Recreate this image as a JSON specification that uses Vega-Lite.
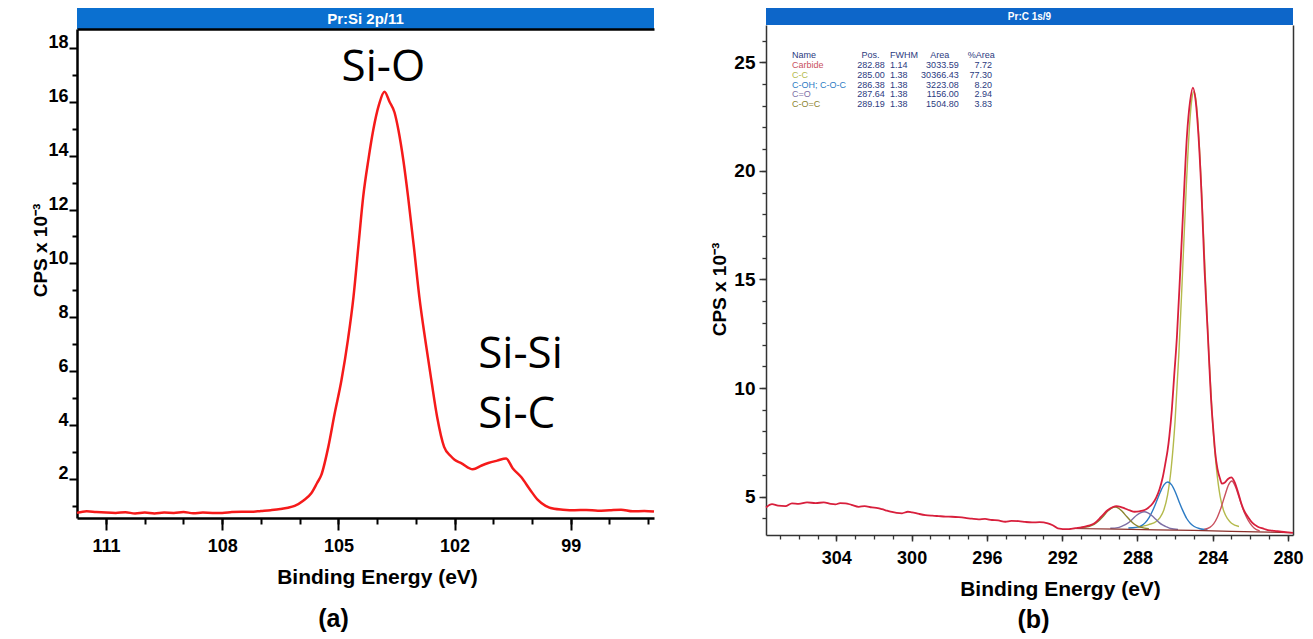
{
  "$schema": "https://vega.github.io/schema/vega-lite/v6.json",
  "background": "white",
  "padding": {"left": 31, "top": 8, "right": 5, "bottom": 5},
  "spacing": 51,
  "datasets": {
    "si": [
      {"be":111.75,"cps":0.74},{"be":111.5,"cps":0.80},{"be":111.25,"cps":0.77},{"be":111.0,"cps":0.75},{"be":110.75,"cps":0.74},{"be":110.5,"cps":0.76},{"be":110.25,"cps":0.72},{"be":110.0,"cps":0.75},{"be":109.75,"cps":0.72},{"be":109.5,"cps":0.75},{"be":109.25,"cps":0.74},{"be":109.0,"cps":0.77},{"be":108.75,"cps":0.73},{"be":108.5,"cps":0.75},{"be":108.25,"cps":0.74},{"be":108.0,"cps":0.74},{"be":107.75,"cps":0.77},{"be":107.5,"cps":0.78},{"be":107.25,"cps":0.78},{"be":107.0,"cps":0.81},{"be":106.75,"cps":0.84},{"be":106.5,"cps":0.88},{"be":106.3,"cps":0.93},{"be":106.13,"cps":1.0},{"be":105.9,"cps":1.2},{"be":105.7,"cps":1.47},{"be":105.55,"cps":1.85},{"be":105.44,"cps":2.15},{"be":105.26,"cps":3.19},{"be":105.1,"cps":4.4},{"be":104.92,"cps":5.67},{"be":104.75,"cps":7.2},{"be":104.61,"cps":8.76},{"be":104.48,"cps":10.7},{"be":104.36,"cps":12.47},{"be":104.22,"cps":13.9},{"be":104.1,"cps":14.95},{"be":103.95,"cps":15.9},{"be":103.81,"cps":16.37},{"be":103.68,"cps":16.0},{"be":103.55,"cps":15.6},{"be":103.45,"cps":14.95},{"be":103.32,"cps":13.8},{"be":103.2,"cps":12.47},{"be":103.05,"cps":10.6},{"be":102.91,"cps":8.76},{"be":102.75,"cps":7.1},{"be":102.6,"cps":5.67},{"be":102.45,"cps":4.3},{"be":102.27,"cps":3.19},{"be":102.1,"cps":2.85},{"be":102.0,"cps":2.71},{"be":101.83,"cps":2.59},{"be":101.53,"cps":2.36},{"be":101.3,"cps":2.5},{"be":101.13,"cps":2.59},{"be":100.9,"cps":2.68},{"be":100.67,"cps":2.76},{"be":100.5,"cps":2.4},{"be":100.28,"cps":2.07},{"be":100.05,"cps":1.6},{"be":99.85,"cps":1.22},{"be":99.65,"cps":1.0},{"be":99.43,"cps":0.89},{"be":99.2,"cps":0.86},{"be":98.9,"cps":0.84},{"be":98.6,"cps":0.85},{"be":98.3,"cps":0.82},{"be":98.0,"cps":0.84},{"be":97.7,"cps":0.86},{"be":97.4,"cps":0.8},{"be":97.1,"cps":0.81},{"be":96.85,"cps":0.79}
    ],
    "labels": [
      {"label":"Si-O","be":103.84,"cps":17.26},
      {"label":"Si-Si","be":101.39,"cps":6.6},
      {"label":"Si-C","be":101.39,"cps":4.38}
    ],
    "c1s": [
      {"be":307.74,"cps":4.50},{"be":307.42,"cps":4.65},{"be":307.1,"cps":4.58},{"be":306.71,"cps":4.56},{"be":306.36,"cps":4.69},{"be":306.0,"cps":4.66},{"be":305.56,"cps":4.73},{"be":305.1,"cps":4.70},{"be":304.67,"cps":4.73},{"be":304.3,"cps":4.66},{"be":304.05,"cps":4.64},{"be":303.8,"cps":4.70},{"be":303.52,"cps":4.69},{"be":303.2,"cps":4.62},{"be":302.81,"cps":4.53},{"be":302.5,"cps":4.56},{"be":302.11,"cps":4.50},{"be":301.8,"cps":4.47},{"be":301.58,"cps":4.42},{"be":301.3,"cps":4.35},{"be":301.05,"cps":4.29},{"be":300.8,"cps":4.25},{"be":300.51,"cps":4.23},{"be":300.2,"cps":4.30},{"be":299.98,"cps":4.27},{"be":299.6,"cps":4.20},{"be":299.27,"cps":4.15},{"be":298.9,"cps":4.12},{"be":298.56,"cps":4.10},{"be":298.2,"cps":4.08},{"be":297.86,"cps":4.07},{"be":297.5,"cps":4.05},{"be":297.15,"cps":4.02},{"be":296.8,"cps":3.98},{"be":296.44,"cps":3.95},{"be":296.1,"cps":3.97},{"be":295.73,"cps":3.92},{"be":295.4,"cps":3.90},{"be":295.02,"cps":3.84},{"be":294.7,"cps":3.88},{"be":294.31,"cps":3.87},{"be":293.95,"cps":3.83},{"be":293.6,"cps":3.81},{"be":293.2,"cps":3.82},{"be":292.76,"cps":3.77},{"be":292.5,"cps":3.68},{"be":292.23,"cps":3.54},{"be":291.7,"cps":3.50},{"be":291.3,"cps":3.55},{"be":290.98,"cps":3.58},{"be":290.6,"cps":3.66},{"be":290.28,"cps":3.77},{"be":289.92,"cps":4.07},{"be":289.57,"cps":4.38},{"be":289.3,"cps":4.52},{"be":289.12,"cps":4.56},{"be":288.9,"cps":4.53},{"be":288.68,"cps":4.46},{"be":288.4,"cps":4.36},{"be":288.15,"cps":4.30},{"be":287.9,"cps":4.32},{"be":287.62,"cps":4.38},{"be":287.4,"cps":4.50},{"be":287.18,"cps":4.69},{"be":287.0,"cps":4.95},{"be":286.82,"cps":5.35},{"be":286.65,"cps":5.9},{"be":286.5,"cps":6.6},{"be":286.4,"cps":7.1},{"be":286.3,"cps":7.8},{"be":286.17,"cps":9.0},{"be":286.05,"cps":10.5},{"be":285.9,"cps":12.36},{"be":285.72,"cps":15.43},{"be":285.55,"cps":18.5},{"be":285.37,"cps":21.57},{"be":285.2,"cps":23.2},{"be":285.05,"cps":23.84},{"be":284.9,"cps":23.2},{"be":284.75,"cps":21.57},{"be":284.57,"cps":18.5},{"be":284.43,"cps":15.43},{"be":284.25,"cps":12.36},{"be":284.07,"cps":9.29},{"be":283.95,"cps":7.9},{"be":283.86,"cps":6.99},{"be":283.75,"cps":6.3},{"be":283.6,"cps":5.8},{"be":283.51,"cps":5.6},{"be":283.35,"cps":5.65},{"be":283.2,"cps":5.8},{"be":283.01,"cps":5.88},{"be":282.84,"cps":5.68},{"be":282.65,"cps":5.2},{"be":282.48,"cps":4.69},{"be":282.3,"cps":4.3},{"be":282.13,"cps":4.07},{"be":281.9,"cps":3.8},{"be":281.6,"cps":3.61},{"be":281.3,"cps":3.52},{"be":281.07,"cps":3.46},{"be":280.7,"cps":3.42},{"be":280.35,"cps":3.38},{"be":280.0,"cps":3.35},{"be":279.73,"cps":3.33}
    ],
    "comp": [
      {"name":"C-C","be":282.6,"cps":3.62},{"name":"C-C","be":283.0,"cps":3.77},{"name":"C-C","be":283.2,"cps":3.97},{"name":"C-C","be":283.4,"cps":4.31},{"name":"C-C","be":283.6,"cps":5.0},{"name":"C-C","be":283.8,"cps":6.3},{"name":"C-C","be":284.0,"cps":8.4},{"name":"C-C","be":284.2,"cps":11.49},{"name":"C-C","be":284.4,"cps":15.32},{"name":"C-C","be":284.6,"cps":19.3},{"name":"C-C","be":284.8,"cps":22.44},{"name":"C-C","be":284.9,"cps":23.34},{"name":"C-C","be":285.0,"cps":23.65},{"name":"C-C","be":285.1,"cps":23.35},{"name":"C-C","be":285.2,"cps":22.44},{"name":"C-C","be":285.4,"cps":19.32},{"name":"C-C","be":285.6,"cps":15.34},{"name":"C-C","be":285.8,"cps":11.52},{"name":"C-C","be":286.0,"cps":8.44},{"name":"C-C","be":286.2,"cps":6.34},{"name":"C-C","be":286.4,"cps":5.05},{"name":"C-C","be":286.6,"cps":4.37},{"name":"C-C","be":286.8,"cps":4.03},{"name":"C-C","be":287.0,"cps":3.85},{"name":"C-C","be":287.4,"cps":3.71},{"name":"C-C","be":288.0,"cps":3.58},
      {"name":"C-OH; C-O-C","be":284.28,"cps":3.47},{"name":"C-OH; C-O-C","be":284.68,"cps":3.52},{"name":"C-OH; C-O-C","be":284.98,"cps":3.62},{"name":"C-OH; C-O-C","be":285.18,"cps":3.76},{"name":"C-OH; C-O-C","be":285.38,"cps":3.99},{"name":"C-OH; C-O-C","be":285.58,"cps":4.34},{"name":"C-OH; C-O-C","be":285.78,"cps":4.75},{"name":"C-OH; C-O-C","be":285.98,"cps":5.2},{"name":"C-OH; C-O-C","be":286.18,"cps":5.54},{"name":"C-OH; C-O-C","be":286.38,"cps":5.67},{"name":"C-OH; C-O-C","be":286.58,"cps":5.55},{"name":"C-OH; C-O-C","be":286.78,"cps":5.21},{"name":"C-OH; C-O-C","be":286.98,"cps":4.78},{"name":"C-OH; C-O-C","be":287.18,"cps":4.37},{"name":"C-OH; C-O-C","be":287.38,"cps":4.03},{"name":"C-OH; C-O-C","be":287.58,"cps":3.8},{"name":"C-OH; C-O-C","be":287.78,"cps":3.66},{"name":"C-OH; C-O-C","be":288.08,"cps":3.58},{"name":"C-OH; C-O-C","be":288.48,"cps":3.55},
      {"name":"C=O","be":285.84,"cps":3.49},{"name":"C=O","be":286.24,"cps":3.53},{"name":"C=O","be":286.44,"cps":3.6},{"name":"C=O","be":286.64,"cps":3.68},{"name":"C=O","be":286.84,"cps":3.8},{"name":"C=O","be":287.04,"cps":3.97},{"name":"C=O","be":287.24,"cps":4.13},{"name":"C=O","be":287.44,"cps":4.25},{"name":"C=O","be":287.64,"cps":4.3},{"name":"C=O","be":287.84,"cps":4.25},{"name":"C=O","be":288.04,"cps":4.14},{"name":"C=O","be":288.24,"cps":3.98},{"name":"C=O","be":288.44,"cps":3.82},{"name":"C=O","be":288.64,"cps":3.71},{"name":"C=O","be":288.84,"cps":3.63},{"name":"C=O","be":289.04,"cps":3.57},{"name":"C=O","be":289.44,"cps":3.54},
      {"name":"C-O=C","be":287.39,"cps":3.52},{"name":"C-O=C","be":287.79,"cps":3.58},{"name":"C-O=C","be":287.99,"cps":3.64},{"name":"C-O=C","be":288.19,"cps":3.75},{"name":"C-O=C","be":288.39,"cps":3.91},{"name":"C-O=C","be":288.59,"cps":4.1},{"name":"C-O=C","be":288.79,"cps":4.3},{"name":"C-O=C","be":288.99,"cps":4.46},{"name":"C-O=C","be":289.19,"cps":4.52},{"name":"C-O=C","be":289.39,"cps":4.46},{"name":"C-O=C","be":289.59,"cps":4.32},{"name":"C-O=C","be":289.79,"cps":4.12},{"name":"C-O=C","be":289.99,"cps":3.93},{"name":"C-O=C","be":290.19,"cps":3.79},{"name":"C-O=C","be":290.39,"cps":3.68},{"name":"C-O=C","be":290.59,"cps":3.62},{"name":"C-O=C","be":290.99,"cps":3.58},
      {"name":"Carbide","be":281.5,"cps":3.42},{"name":"Carbide","be":281.8,"cps":3.55},{"name":"Carbide","be":282.0,"cps":3.75},{"name":"Carbide","be":282.2,"cps":4.05},{"name":"Carbide","be":282.4,"cps":4.45},{"name":"Carbide","be":282.6,"cps":4.98},{"name":"Carbide","be":282.8,"cps":5.48},{"name":"Carbide","be":282.98,"cps":5.72},{"name":"Carbide","be":283.15,"cps":5.55},{"name":"Carbide","be":283.35,"cps":5.05},{"name":"Carbide","be":283.55,"cps":4.5},{"name":"Carbide","be":283.75,"cps":4.05},{"name":"Carbide","be":283.95,"cps":3.74},{"name":"Carbide","be":284.15,"cps":3.58},{"name":"Carbide","be":284.45,"cps":3.49}
    ],
    "bg": [
      {"be":291.6,"cps":3.53},{"be":289.0,"cps":3.5},{"be":287.0,"cps":3.47},{"be":285.0,"cps":3.44},{"be":283.0,"cps":3.4},{"be":281.0,"cps":3.36},{"be":279.8,"cps":3.34}
    ],
    "table": [
      {"row":0,"name":"Name","pos":"Pos.","fwhm":"FWHM","area":"Area","pct":"%Area"},
      {"row":1,"name":"Carbide","pos":"282.88","fwhm":"1.14","area":"3033.59","pct":"7.72"},
      {"row":2,"name":"C-C","pos":"285.00","fwhm":"1.38","area":"30366.43","pct":"77.30"},
      {"row":3,"name":"C-OH; C-O-C","pos":"286.38","fwhm":"1.38","area":"3223.08","pct":"8.20"},
      {"row":4,"name":"C=O","pos":"287.64","fwhm":"1.38","area":"1156.00","pct":"2.94"},
      {"row":5,"name":"C-O=C","pos":"289.19","fwhm":"1.38","area":"1504.80","pct":"3.83"}
    ]
  },
  "hconcat": [
    {
      "spacing": 0,
      "vconcat": [
        {
          "width": 577, "height": 21,
          "view": {"fill": "#0b70d0", "stroke": null},
          "data": {"values": [{"label": "Pr:Si 2p/11"}]},
          "mark": {"type": "text", "color": "white", "font": "Liberation Sans", "fontWeight": "bold", "fontSize": 15},
          "encoding": {"text": {"field": "label"}}
        },
        {
          "width": 577, "height": 489,
          "title": {"text": "(a)", "orient": "bottom", "font": "Liberation Sans", "fontWeight": "bold", "fontSize": 25, "color": "black", "offset": 20, "dx": -32},
          "resolve": {"axis": {"x": "independent", "y": "independent"}},
          "layer": [
            {
              "data": {"name": "si"},
              "mark": {"type": "line", "color": "#f51a1a", "strokeWidth": 2.5, "interpolate": "monotone"},
              "encoding": {
                "x": {"field": "be", "type": "quantitative",
                  "scale": {"domain": [96.85, 111.75], "reverse": true, "nice": false, "zero": false},
                  "axis": {"orient": "bottom", "values": [99, 102, 105, 108, 111], "tickSize": 12, "tickWidth": 2, "domainWidth": 2.5, "labelPadding": 7, "labelFontSize": 18,
                    "title": "Binding Energy (eV)", "titleFontSize": 21, "titleX": 300, "titleY": 59, "titleBaseline": "middle"}},
                "y": {"field": "cps", "type": "quantitative",
                  "scale": {"domain": [0.55, 18.7], "nice": false, "zero": false},
                  "axis": {"orient": "left", "values": [2, 4, 6, 8, 10, 12, 14, 16, 18], "tickSize": 8, "tickWidth": 2, "domainWidth": 2.5, "labelPadding": 1, "labelFontSize": 18, "labelBaseline": "alphabetic",
                    "title": "CPS x 10⁻³", "titleFontSize": 19, "titleX": -37, "titleY": 221, "titleBaseline": "middle"}}
              }
            },
            {
              "data": {"name": "si"},
              "mark": {"type": "line", "opacity": 0},
              "encoding": {
                "x": {"field": "be", "type": "quantitative",
                  "scale": {"domain": [96.85, 111.75], "reverse": true, "nice": false, "zero": false},
                  "axis": {"orient": "bottom", "values": [97, 98, 99, 100, 101, 102, 103, 104, 105, 106, 107, 108, 109, 110, 111], "tickSize": 6, "tickWidth": 2, "domain": false, "labels": false, "title": null}},
                "y": {"field": "cps", "type": "quantitative",
                  "scale": {"domain": [0.55, 18.7], "nice": false, "zero": false},
                  "axis": {"orient": "left", "values": [1, 3, 5, 7, 9, 11, 13, 15, 17], "tickSize": 5, "tickWidth": 2, "domain": false, "labels": false, "title": null}}
              }
            },
            {
              "data": {"name": "labels"},
              "transform": [{"filter": "datum.label == 'Si-O'"}],
              "mark": {"type": "text", "align": "center", "baseline": "middle", "font": "Open Sans", "fontSize": 44, "color": "black"},
              "encoding": {
                "x": {"field": "be", "type": "quantitative",
                  "scale": {"domain": [96.85, 111.75], "reverse": true, "nice": false, "zero": false},
                  "axis": {"orient": "top", "domain": true, "domainWidth": 2.5, "ticks": false, "labels": false, "title": null}},
                "y": {"field": "cps", "type": "quantitative", "scale": {"domain": [0.55, 18.7], "nice": false, "zero": false}, "axis": null},
                "text": {"field": "label"}
              }
            },
            {
              "data": {"name": "labels"},
              "transform": [{"filter": "datum.label != 'Si-O'"}],
              "mark": {"type": "text", "align": "left", "baseline": "middle", "font": "Open Sans", "fontSize": 44, "color": "black"},
              "encoding": {
                "x": {"field": "be", "type": "quantitative", "scale": {"domain": [96.85, 111.75], "reverse": true, "nice": false, "zero": false}, "axis": null},
                "y": {"field": "cps", "type": "quantitative", "scale": {"domain": [0.55, 18.7], "nice": false, "zero": false}, "axis": null},
                "text": {"field": "label"}
              }
            }
          ]
        }
      ]
    },
    {
      "spacing": 0,
      "vconcat": [
        {
          "width": 527, "height": 17,
          "view": {"fill": "#0d66c9", "stroke": null},
          "data": {"values": [{"label": "Pr:C 1s/9"}]},
          "mark": {"type": "text", "color": "white", "font": "Liberation Sans", "fontWeight": "bold", "fontSize": 10},
          "encoding": {"text": {"field": "label"}}
        },
        {
          "width": 527, "height": 510,
          "title": {"text": "(b)", "orient": "bottom", "font": "Liberation Sans", "fontWeight": "bold", "fontSize": 25, "color": "black", "offset": 9, "dx": 4},
          "resolve": {"axis": {"x": "independent", "y": "independent"}, "scale": {"y": "independent"}},
          "layer": [
            {
              "data": {"name": "comp"},
              "mark": {"type": "line", "strokeWidth": 1.4, "interpolate": "monotone"},
              "encoding": {
                "x": {"field": "be", "type": "quantitative", "scale": {"domain": [279.73, 307.74], "reverse": true, "nice": false, "zero": false}, "axis": null},
                "y": {"field": "cps", "type": "quantitative", "scale": {"domain": [3.23, 26.72], "nice": false, "zero": false},
                  "axis": {"orient": "right", "domain": true, "domainWidth": 1.5, "domainColor": "#333333", "ticks": false, "labels": false, "title": null}},
                "color": {"field": "name", "type": "nominal", "legend": null,
                  "scale": {"domain": ["Name", "Carbide", "C-C", "C-OH; C-O-C", "C=O", "C-O=C"], "range": ["#2b3a80", "#c9505e", "#b4ba4c", "#2c7bc4", "#7d6fa6", "#8c8430"]}}
              }
            },
            {
              "data": {"name": "bg"},
              "mark": {"type": "line", "strokeWidth": 1.2, "color": "#8b2f2a"},
              "encoding": {
                "x": {"field": "be", "type": "quantitative", "scale": {"domain": [279.73, 307.74], "reverse": true, "nice": false, "zero": false}, "axis": null},
                "y": {"field": "cps", "type": "quantitative", "scale": {"domain": [3.23, 26.72], "nice": false, "zero": false}, "axis": null}
              }
            },
            {
              "data": {"name": "c1s"},
              "mark": {"type": "line", "color": "#d81f3c", "strokeWidth": 1.8, "interpolate": "monotone"},
              "encoding": {
                "x": {"field": "be", "type": "quantitative",
                  "scale": {"domain": [279.73, 307.74], "reverse": true, "nice": false, "zero": false},
                  "axis": {"orient": "bottom", "values": [280, 284, 288, 292, 296, 300, 304], "tickSize": 6, "tickWidth": 1.5, "domainWidth": 1.5, "domainColor": "#333333", "tickColor": "#333333", "labelPadding": 8, "labelFontSize": 18,
                    "title": "Binding Energy (eV)", "titleFontSize": 21, "titleX": 294, "titleY": 54, "titleBaseline": "middle"}},
                "y": {"field": "cps", "type": "quantitative",
                  "scale": {"domain": [3.23, 26.72], "nice": false, "zero": false},
                  "axis": {"orient": "left", "values": [5, 10, 15, 20, 25], "tickSize": 7, "tickWidth": 1.5, "domainWidth": 1.5, "domainColor": "#333333", "tickColor": "#333333", "labelPadding": 4, "labelFontSize": 19,
                    "title": "CPS x 10⁻³", "titleFontSize": 19, "titleX": -47, "titleY": 264, "titleBaseline": "middle"}}
              }
            },
            {
              "data": {"name": "c1s"},
              "mark": {"type": "line", "opacity": 0},
              "encoding": {
                "x": {"field": "be", "type": "quantitative",
                  "scale": {"domain": [279.73, 307.74], "reverse": true, "nice": false, "zero": false},
                  "axis": {"orient": "bottom", "values": [280, 281, 282, 283, 284, 285, 286, 287, 288, 289, 290, 291, 292, 293, 294, 295, 296, 297, 298, 299, 300, 301, 302, 303, 304, 305, 306, 307], "tickSize": 4, "tickWidth": 1.3, "tickColor": "#333333", "domain": false, "labels": false, "title": null}},
                "y": {"field": "cps", "type": "quantitative",
                  "scale": {"domain": [3.23, 26.72], "nice": false, "zero": false},
                  "axis": {"orient": "left", "values": [4, 5, 6, 7, 8, 9, 10, 11, 12, 13, 14, 15, 16, 17, 18, 19, 20, 21, 22, 23, 24, 25, 26], "tickSize": 4, "tickWidth": 1.3, "tickColor": "#333333", "domain": false, "labels": false, "title": null}}
              }
            },
            {
              "data": {"name": "table"},
              "mark": {"type": "text", "align": "left", "baseline": "middle", "font": "Liberation Sans", "fontSize": 9},
              "encoding": {
                "x": {"datum": 306.36, "type": "quantitative", "scale": {"domain": [279.73, 307.74], "reverse": true, "nice": false, "zero": false}, "axis": null},
                "y": {"field": "row", "type": "quantitative", "scale": {"domain": [-3.09, 48.95], "reverse": true, "nice": false, "zero": false}, "axis": null},
                "text": {"field": "name"},
                "color": {"field": "name", "type": "nominal", "legend": null,
                  "scale": {"domain": ["Name", "Carbide", "C-C", "C-OH; C-O-C", "C=O", "C-O=C"], "range": ["#2b3a80", "#c9505e", "#b4ba4c", "#2c7bc4", "#7d6fa6", "#8c8430"]}}
              }
            },
            {
              "data": {"name": "table"},
              "transform": [{"filter": "datum.row == 0"}],
              "mark": {"type": "text", "align": "left", "baseline": "middle", "font": "Liberation Sans", "fontSize": 9, "color": "#2b3a80"},
              "encoding": {
                "x": {"datum": 302.67, "type": "quantitative", "scale": {"domain": [279.73, 307.74], "reverse": true, "nice": false, "zero": false}, "axis": null},
                "y": {"field": "row", "type": "quantitative", "scale": {"domain": [-3.09, 48.95], "reverse": true, "nice": false, "zero": false}, "axis": null},
                "text": {"field": "pos"}
              }
            },
            {
              "data": {"name": "table"},
              "transform": [{"filter": "datum.row > 0"}],
              "mark": {"type": "text", "align": "right", "baseline": "middle", "font": "Liberation Sans", "fontSize": 9, "color": "#2b3a80"},
              "encoding": {
                "x": {"datum": 301.43, "type": "quantitative", "scale": {"domain": [279.73, 307.74], "reverse": true, "nice": false, "zero": false}, "axis": null},
                "y": {"field": "row", "type": "quantitative", "scale": {"domain": [-3.09, 48.95], "reverse": true, "nice": false, "zero": false}, "axis": null},
                "text": {"field": "pos"}
              }
            },
            {
              "data": {"name": "table"},
              "mark": {"type": "text", "align": "left", "baseline": "middle", "font": "Liberation Sans", "fontSize": 9, "color": "#2b3a80"},
              "encoding": {
                "x": {"datum": 301.15, "type": "quantitative", "scale": {"domain": [279.73, 307.74], "reverse": true, "nice": false, "zero": false}, "axis": null},
                "y": {"field": "row", "type": "quantitative", "scale": {"domain": [-3.09, 48.95], "reverse": true, "nice": false, "zero": false}, "axis": null},
                "text": {"field": "fwhm"}
              }
            },
            {
              "data": {"name": "table"},
              "transform": [{"filter": "datum.row == 0"}],
              "mark": {"type": "text", "align": "left", "baseline": "middle", "font": "Liberation Sans", "fontSize": 9, "color": "#2b3a80"},
              "encoding": {
                "x": {"datum": 299.01, "type": "quantitative", "scale": {"domain": [279.73, 307.74], "reverse": true, "nice": false, "zero": false}, "axis": null},
                "y": {"field": "row", "type": "quantitative", "scale": {"domain": [-3.09, 48.95], "reverse": true, "nice": false, "zero": false}, "axis": null},
                "text": {"field": "area"}
              }
            },
            {
              "data": {"name": "table"},
              "transform": [{"filter": "datum.row > 0"}],
              "mark": {"type": "text", "align": "right", "baseline": "middle", "font": "Liberation Sans", "fontSize": 9, "color": "#2b3a80"},
              "encoding": {
                "x": {"datum": 297.5, "type": "quantitative", "scale": {"domain": [279.73, 307.74], "reverse": true, "nice": false, "zero": false}, "axis": null},
                "y": {"field": "row", "type": "quantitative", "scale": {"domain": [-3.09, 48.95], "reverse": true, "nice": false, "zero": false}, "axis": null},
                "text": {"field": "area"}
              }
            },
            {
              "data": {"name": "table"},
              "transform": [{"filter": "datum.row == 0"}],
              "mark": {"type": "text", "align": "left", "baseline": "middle", "font": "Liberation Sans", "fontSize": 9, "color": "#2b3a80"},
              "encoding": {
                "x": {"datum": 297.02, "type": "quantitative", "scale": {"domain": [279.73, 307.74], "reverse": true, "nice": false, "zero": false}, "axis": null},
                "y": {"field": "row", "type": "quantitative", "scale": {"domain": [-3.09, 48.95], "reverse": true, "nice": false, "zero": false}, "axis": null},
                "text": {"field": "pct"}
              }
            },
            {
              "data": {"name": "table"},
              "transform": [{"filter": "datum.row > 0"}],
              "mark": {"type": "text", "align": "right", "baseline": "middle", "font": "Liberation Sans", "fontSize": 9, "color": "#2b3a80"},
              "encoding": {
                "x": {"datum": 295.73, "type": "quantitative", "scale": {"domain": [279.73, 307.74], "reverse": true, "nice": false, "zero": false}, "axis": null},
                "y": {"field": "row", "type": "quantitative", "scale": {"domain": [-3.09, 48.95], "reverse": true, "nice": false, "zero": false}, "axis": null},
                "text": {"field": "pct"}
              }
            }
          ]
        }
      ]
    }
  ],
  "config": {
    "view": {"stroke": null},
    "axis": {"grid": false, "domainColor": "black", "tickColor": "black", "labelColor": "black", "labelFont": "Liberation Sans", "labelFontWeight": "bold", "titleFont": "Liberation Sans", "titleFontWeight": "bold", "titleColor": "black", "labelFlush": false, "labelOverlap": false}
  }
}
